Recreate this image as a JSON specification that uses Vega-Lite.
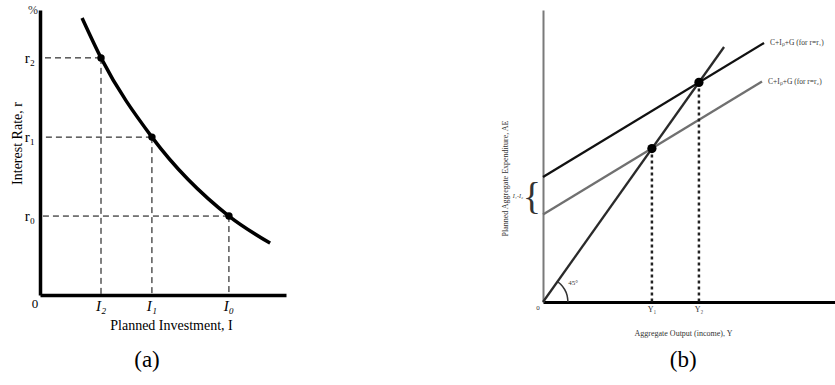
{
  "$schema": "https://vega.github.io/schema/vega-lite/v6.json",
  "autosize": {"type": "pad"},
  "padding": {"left": 10, "top": 4, "right": 0, "bottom": 0},
  "background": "white",
  "spacing": 257,
  "bounds": "flush",
  "config": {"view": {"stroke": null}, "font": "Liberation Serif"},
  "datasets": {
    "curveA": [
      {"I": 1.71, "r": 9.72},
      {"I": 2.48, "r": 8.32},
      {"I": 4.55, "r": 5.54},
      {"I": 7.68, "r": 2.77},
      {"I": 9.35, "r": 1.82}
    ],
    "pointsA": [
      {"I": 2.48, "r": 8.32, "il": "I₂", "rl": "r₂"},
      {"I": 4.55, "r": 5.54, "il": "I₁", "rl": "r₁"},
      {"I": 7.68, "r": 2.77, "il": "I₀", "rl": "r₀"}
    ],
    "linesB": [
      {"id": "45", "x": 0, "y": 0, "x2": 6.2, "y2": 6.2, "label": ""},
      {"id": "r1", "x": 0, "y": 3.04, "x2": 7.57, "y2": 6.30, "label": "C+Iₚ+G (for r=r₁)"},
      {"id": "r2", "x": 0, "y": 2.13, "x2": 7.5, "y2": 5.36, "label": "C+Iₚ+G (for r=r₂)"}
    ],
    "pointsB": [
      {"Y": 3.73, "AE": 3.73, "lab": "Y₁"},
      {"Y": 5.34, "AE": 5.34, "lab": "Y₂"}
    ],
    "arcB": [
      {"a": 0, "x": 0.856, "y": 0},
      {"a": 15, "x": 0.826, "y": 0.158},
      {"a": 30, "x": 0.742, "y": 0.304},
      {"a": 45, "x": 0.605, "y": 0.43},
      {"a": 54.6, "x": 0.495, "y": 0.496}
    ],
    "one": [{}]
  },
  "hconcat": [
    {
      "width": 246,
      "height": 285,
      "layer": [
        {
          "data": {"name": "curveA"},
          "mark": {"type": "line", "interpolate": "monotone", "color": "black", "strokeWidth": 3.5},
          "encoding": {
            "x": {"field": "I", "type": "quantitative", "scale": {"domain": [0, 10], "nice": false, "zero": false},
              "axis": {"domain": true, "domainColor": "black", "domainWidth": 3.5, "ticks": false, "labels": false, "grid": false,
                "title": "Planned Investment, I", "titleFont": "Liberation Serif", "titleFontSize": 14, "titleFontWeight": "normal", "titleColor": "black",
                "titleX": 131, "titleY": 30, "titleAlign": "center", "titleBaseline": "middle"}},
            "y": {"field": "r", "type": "quantitative", "scale": {"domain": [0, 10], "nice": false, "zero": false},
              "axis": {"domain": true, "domainColor": "black", "domainWidth": 3.5, "ticks": false, "labels": false, "grid": false,
                "title": "Interest Rate, r", "titleFont": "Liberation Serif", "titleFontSize": 14, "titleFontWeight": "normal", "titleColor": "black",
                "titleX": -23, "titleY": 133, "titleAngle": -90, "titleAlign": "center", "titleBaseline": "middle"}}
          }
        },
        {
          "data": {"name": "pointsA"},
          "mark": {"type": "rule", "color": "black", "strokeWidth": 1, "strokeDash": [6, 4]},
          "encoding": {
            "x": {"field": "I", "type": "quantitative"},
            "x2": {"datum": 0},
            "y": {"field": "r", "type": "quantitative"}
          }
        },
        {
          "data": {"name": "pointsA"},
          "mark": {"type": "rule", "color": "black", "strokeWidth": 1, "strokeDash": [6, 4]},
          "encoding": {
            "x": {"field": "I", "type": "quantitative"},
            "y": {"field": "r", "type": "quantitative"},
            "y2": {"datum": 0}
          }
        },
        {
          "data": {"name": "pointsA"},
          "mark": {"type": "circle", "color": "black", "opacity": 1, "size": 55},
          "encoding": {
            "x": {"field": "I", "type": "quantitative"},
            "y": {"field": "r", "type": "quantitative"}
          }
        },
        {
          "data": {"name": "pointsA"},
          "mark": {"type": "text", "font": "Liberation Serif", "fontSize": 15, "fontStyle": "italic", "align": "center", "baseline": "middle", "dy": 11, "color": "black"},
          "encoding": {
            "x": {"field": "I", "type": "quantitative"},
            "y": {"datum": 0, "type": "quantitative"},
            "text": {"field": "il"}
          }
        },
        {
          "data": {"name": "pointsA"},
          "mark": {"type": "text", "font": "Liberation Serif", "fontSize": 15, "align": "right", "baseline": "middle", "dx": -5, "color": "black"},
          "encoding": {
            "x": {"datum": 0, "type": "quantitative"},
            "y": {"field": "r", "type": "quantitative"},
            "text": {"field": "rl"}
          }
        },
        {
          "data": {"name": "one"},
          "mark": {"type": "text", "font": "Liberation Serif", "fontSize": 13, "align": "center", "baseline": "middle", "dx": -5, "dy": 9, "color": "black"},
          "encoding": {
            "x": {"datum": 0, "type": "quantitative"},
            "y": {"datum": 0, "type": "quantitative"},
            "text": {"value": "0"}
          }
        },
        {
          "data": {"name": "one"},
          "mark": {"type": "text", "font": "Liberation Serif", "fontSize": 12, "align": "center", "baseline": "middle", "dx": -7, "color": "#333"},
          "encoding": {
            "x": {"datum": 0, "type": "quantitative"},
            "y": {"datum": 10, "type": "quantitative"},
            "text": {"value": "%"}
          }
        },
        {
          "data": {"name": "one"},
          "mark": {"type": "text", "font": "Liberation Serif", "fontSize": 23, "align": "center", "baseline": "middle", "dy": 65, "color": "black"},
          "encoding": {
            "x": {"datum": 4.35, "type": "quantitative"},
            "y": {"datum": 0, "type": "quantitative"},
            "text": {"value": "(a)"}
          }
        }
      ]
    },
    {
      "width": 292,
      "height": 292,
      "layer": [
        {
          "data": {"name": "linesB"},
          "mark": {"type": "rule", "strokeWidth": 2.3},
          "encoding": {
            "x": {"field": "x", "type": "quantitative", "scale": {"domain": [0, 10], "nice": false, "zero": false},
              "axis": {"domain": true, "domainColor": "black", "domainWidth": 3, "ticks": false, "labels": false, "grid": false,
                "title": "Aggregate Output (income), Y", "titleFont": "Liberation Serif", "titleFontSize": 8, "titleFontWeight": "normal", "titleColor": "#333",
                "titleX": 140, "titleY": 31, "titleAlign": "center", "titleBaseline": "middle"}},
            "y": {"field": "y", "type": "quantitative", "scale": {"domain": [0, 7.1], "nice": false, "zero": false},
              "axis": {"domain": true, "domainColor": "#7a7a7a", "domainWidth": 2, "ticks": false, "labels": false, "grid": false,
                "title": "Planned Aggregate Expenditure, AE", "titleFont": "Liberation Serif", "titleFontSize": 8, "titleFontWeight": "normal", "titleColor": "#333",
                "titleX": -38, "titleY": 168, "titleAngle": -90, "titleAlign": "center", "titleBaseline": "middle"}},
            "x2": {"field": "x2"},
            "y2": {"field": "y2"},
            "color": {"field": "id", "type": "nominal", "scale": {"domain": ["45", "r1", "r2"], "range": ["#2a2a2a", "#111111", "#707070"]}, "legend": null}
          }
        },
        {
          "data": {"name": "linesB"},
          "mark": {"type": "text", "font": "Liberation Serif", "fontSize": 7.5, "align": "left", "baseline": "middle", "dx": 6, "color": "#333"},
          "encoding": {
            "x": {"field": "x2", "type": "quantitative"},
            "y": {"field": "y2", "type": "quantitative"},
            "text": {"field": "label"}
          }
        },
        {
          "data": {"name": "arcB"},
          "mark": {"type": "line", "interpolate": "natural", "color": "#333", "strokeWidth": 1.5},
          "encoding": {
            "x": {"field": "x", "type": "quantitative"},
            "y": {"field": "y", "type": "quantitative"},
            "order": {"field": "a", "type": "quantitative"}
          }
        },
        {
          "data": {"name": "pointsB"},
          "mark": {"type": "rule", "color": "#222", "strokeWidth": 2.5, "strokeDash": [3, 3]},
          "encoding": {
            "x": {"field": "Y", "type": "quantitative"},
            "y": {"field": "AE", "type": "quantitative"},
            "y2": {"datum": 0}
          }
        },
        {
          "data": {"name": "pointsB"},
          "mark": {"type": "circle", "color": "black", "opacity": 1, "size": 85},
          "encoding": {
            "x": {"field": "Y", "type": "quantitative"},
            "y": {"field": "AE", "type": "quantitative"}
          }
        },
        {
          "data": {"name": "pointsB"},
          "mark": {"type": "text", "font": "Liberation Serif", "fontSize": 8, "align": "center", "baseline": "middle", "dy": 8, "color": "#333"},
          "encoding": {
            "x": {"field": "Y", "type": "quantitative"},
            "y": {"datum": 0, "type": "quantitative"},
            "text": {"field": "lab"}
          }
        },
        {
          "data": {"name": "one"},
          "mark": {"type": "text", "font": "Liberation Serif", "fontSize": 7, "align": "center", "baseline": "middle", "dx": -5, "dy": 6, "color": "#333"},
          "encoding": {
            "x": {"datum": 0, "type": "quantitative"},
            "y": {"datum": 0, "type": "quantitative"},
            "text": {"value": "0"}
          }
        },
        {
          "data": {"name": "one"},
          "mark": {"type": "text", "font": "Liberation Serif", "fontSize": 7, "align": "center", "baseline": "middle", "color": "#333"},
          "encoding": {
            "x": {"datum": 1.03, "type": "quantitative"},
            "y": {"datum": 0.46, "type": "quantitative"},
            "text": {"value": "45°"}
          }
        },
        {
          "data": {"name": "one"},
          "mark": {"type": "text", "font": "Liberation Serif", "fontSize": 38, "align": "right", "baseline": "middle", "dx": -2, "dy": 2, "color": "#333"},
          "encoding": {
            "x": {"datum": 0, "type": "quantitative"},
            "y": {"datum": 2.585, "type": "quantitative"},
            "text": {"value": "{"}
          }
        },
        {
          "data": {"name": "one"},
          "mark": {"type": "text", "font": "Liberation Serif", "fontSize": 6, "fontStyle": "italic", "align": "right", "baseline": "middle", "dx": -20, "color": "#333"},
          "encoding": {
            "x": {"datum": 0, "type": "quantitative"},
            "y": {"datum": 2.585, "type": "quantitative"},
            "text": {"value": "I₁-I₂"}
          }
        },
        {
          "data": {"name": "one"},
          "mark": {"type": "text", "font": "Liberation Serif", "fontSize": 23, "align": "center", "baseline": "middle", "dy": 58, "color": "black"},
          "encoding": {
            "x": {"datum": 4.8, "type": "quantitative"},
            "y": {"datum": 0, "type": "quantitative"},
            "text": {"value": "(b)"}
          }
        }
      ]
    }
  ]
}
